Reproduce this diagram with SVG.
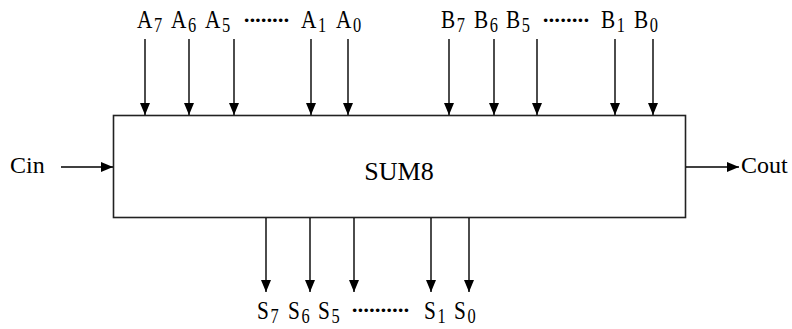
<svg xmlns="http://www.w3.org/2000/svg" width="792" height="329" viewBox="0 0 792 329">
  <style>
    .box { fill: #ffffff; stroke: #222222; stroke-width: 1.6; }
    .wire { stroke: #000000; stroke-width: 1.4; fill: none; marker-end: url(#head); }
    .lbl { font-family: "Liberation Serif", "Times New Roman", serif; font-size: 26px; fill: #000000; }
    .sub { font-size: 20px; }
    .dots { font-family: "Liberation Serif", "Times New Roman", serif; font-size: 22px; font-weight: bold; fill: #000000; }
    .name { font-family: "Liberation Serif", "Times New Roman", serif; fill: #000000; }
  </style>
  <defs>
    <marker id="head" markerUnits="userSpaceOnUse" markerWidth="12" markerHeight="12" viewBox="0 0 12 10" refX="12" refY="5" orient="auto">
      <path d="M0,0 L12,5 L0,10 Z" fill="#000000"/>
    </marker>
  </defs>

  <rect width="792" height="329" fill="#ffffff"/>

  <!-- adder block -->
  <g id="sum8">
    <rect class="box" x="113.5" y="115.5" width="572" height="102"/>
    <text class="name" x="399" y="180" font-size="26" text-anchor="middle">SUM8</text>
  </g>

  <!-- operand A inputs -->
  <g id="inputs-a">
    <text class="lbl" transform="translate(137,27.5) scale(0.82,1)">A<tspan class="sub" dx="2" dy="4">7</tspan></text>
    <text class="lbl" transform="translate(171,27.5) scale(0.82,1)">A<tspan class="sub" dx="2" dy="4">6</tspan></text>
    <text class="lbl" transform="translate(205,27.5) scale(0.82,1)">A<tspan class="sub" dx="2" dy="4">5</tspan></text>
    <text class="dots" x="243" y="26.5" textLength="47" lengthAdjust="spacing">········</text>
    <text class="lbl" transform="translate(301,27.5) scale(0.82,1)">A<tspan class="sub" dx="2" dy="4">1</tspan></text>
    <text class="lbl" transform="translate(336,27.5) scale(0.82,1)">A<tspan class="sub" dx="2" dy="4">0</tspan></text>
  </g>

  <!-- operand B inputs -->
  <g id="inputs-b">
    <text class="lbl" transform="translate(441,27.5) scale(0.82,1)">B<tspan class="sub" dx="2" dy="4">7</tspan></text>
    <text class="lbl" transform="translate(474,27.5) scale(0.82,1)">B<tspan class="sub" dx="2" dy="4">6</tspan></text>
    <text class="lbl" transform="translate(506,27.5) scale(0.82,1)">B<tspan class="sub" dx="2" dy="4">5</tspan></text>
    <text class="dots" x="542" y="26.5" textLength="48" lengthAdjust="spacing">········</text>
    <text class="lbl" transform="translate(601,27.5) scale(0.82,1)">B<tspan class="sub" dx="2" dy="4">1</tspan></text>
    <text class="lbl" transform="translate(634,27.5) scale(0.82,1)">B<tspan class="sub" dx="2" dy="4">0</tspan></text>
  </g>

  <!-- sum outputs -->
  <g id="outputs-s">
    <text class="lbl" transform="translate(257,318.5) scale(0.82,1)">S<tspan class="sub" dx="2" dy="4">7</tspan></text>
    <text class="lbl" transform="translate(288,318.5) scale(0.82,1)">S<tspan class="sub" dx="2" dy="4">6</tspan></text>
    <text class="lbl" transform="translate(318,318.5) scale(0.82,1)">S<tspan class="sub" dx="2" dy="4">5</tspan></text>
    <text class="dots" x="351" y="317" textLength="59" lengthAdjust="spacing">··········</text>
    <text class="lbl" transform="translate(424,318.5) scale(0.82,1)">S<tspan class="sub" dx="2" dy="4">1</tspan></text>
    <text class="lbl" transform="translate(454,318.5) scale(0.82,1)">S<tspan class="sub" dx="2" dy="4">0</tspan></text>
  </g>

  <!-- carry in / carry out -->
  <g id="carry-in">
    <text class="name" x="10" y="173" font-size="24">Cin</text>
  </g>
  <g id="carry-out">
    <text class="name" x="741" y="173" font-size="24">Cout</text>
  </g>

  <!-- connectors -->
  <g id="connectors">
    <line class="wire" x1="145" y1="39" x2="145" y2="115"/>
    <line class="wire" x1="189" y1="39" x2="189" y2="115"/>
    <line class="wire" x1="234" y1="39" x2="234" y2="115"/>
    <line class="wire" x1="311" y1="39" x2="311" y2="115"/>
    <line class="wire" x1="348" y1="39" x2="348" y2="115"/>

    <line class="wire" x1="449" y1="39" x2="449" y2="115"/>
    <line class="wire" x1="494" y1="39" x2="494" y2="115"/>
    <line class="wire" x1="537" y1="39" x2="537" y2="115"/>
    <line class="wire" x1="615" y1="39" x2="615" y2="115"/>
    <line class="wire" x1="653" y1="39" x2="653" y2="115"/>

    <line class="wire" x1="266" y1="218" x2="266" y2="292"/>
    <line class="wire" x1="310" y1="218" x2="310" y2="292"/>
    <line class="wire" x1="354" y1="218" x2="354" y2="292"/>
    <line class="wire" x1="431" y1="218" x2="431" y2="292"/>
    <line class="wire" x1="469" y1="218" x2="469" y2="292"/>

    <line class="wire" x1="61" y1="167" x2="113" y2="167"/>
    <line class="wire" x1="686" y1="167" x2="739" y2="167"/>
  </g>
</svg>
